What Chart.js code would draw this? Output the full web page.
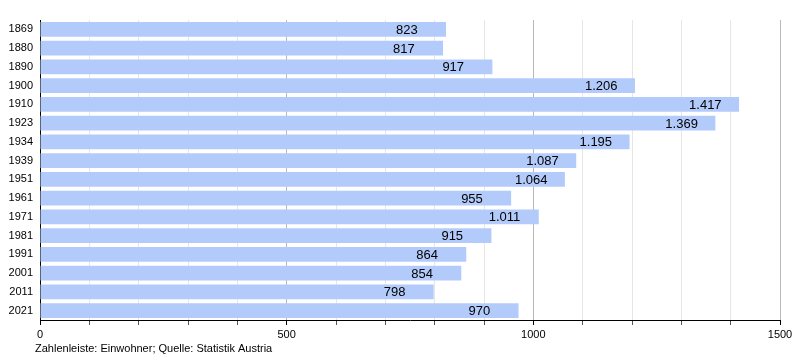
<!DOCTYPE html>
<html>
<head>
<meta charset="utf-8">
<script src="https://cdn.jsdelivr.net/npm/chart.js@4/dist/chart.umd.min.js"></script>
<style>
  html, body { margin: 0; padding: 0; background: #fff; }
  #wrap { width: 800px; height: 360px; position: relative; }
</style>
</head>
<body>
<div id="wrap"><canvas id="popChart"></canvas></div>
<script>
// Einwohner je Zählungsjahr
var years = ['1869', '1880', '1890', '1900', '1910', '1923', '1934', '1939', '1951', '1961', '1971', '1981', '1991', '2001', '2011', '2021'];
var residents = [823, 817, 917, 1206, 1417, 1369, 1195, 1087, 1064, 955, 1011, 915, 864, 854, 798, 970];
var xTicks = [0, 500, 1000, 1500];
var footerText = 'Zahlenleiste: Einwohner; Quelle: Statistik Austria';

var FONT = '"Liberation Sans", Arial, sans-serif';

function fmt(v) {
  return v.toLocaleString('de-DE');
}

// value text sits 50px left of the bar end
var valueLabels = {
  id: 'valueLabels',
  afterDatasetsDraw: function (chart) {
    var ctx = chart.ctx;
    var meta = chart.getDatasetMeta(0);
    ctx.save();
    ctx.font = '13px ' + FONT;
    ctx.fillStyle = '#000';
    ctx.textAlign = 'left';
    ctx.textBaseline = 'middle';
    meta.data.forEach(function (bar, i) {
      ctx.fillText(fmt(residents[i]), bar.x - 50, bar.y + 1);
    });
    ctx.restore();
  }
};

var footer = {
  id: 'footer',
  afterDraw: function (chart) {
    var ctx = chart.ctx;
    ctx.save();
    ctx.font = '11px ' + FONT;
    ctx.fillStyle = '#000';
    ctx.textBaseline = 'middle';
    ctx.fillText(footerText, 35, 349);
    ctx.restore();
  }
};

var ctx = document.getElementById('popChart').getContext('2d');
var popChart = new Chart(ctx, {
  type: 'bar',
  data: {
    labels: years,
    datasets: [{
      data: residents,
      backgroundColor: '#b3cbfa',
      borderWidth: 0,
      barPercentage: 0.79,
      categoryPercentage: 1.0
    }]
  },
  options: {
    indexAxis: 'y',
    responsive: true,
    maintainAspectRatio: false,
    animation: false,
    layout: { padding: { top: 20, right: 20, left: 0, bottom: 0 } },
    plugins: {
      legend: { display: false },
      tooltip: { enabled: false }
    },
    scales: {
      x: {
        min: 0,
        max: 1500,
        afterFit: function (scale) { scale.height = 40; },
        ticks: {
          stepSize: 100,
          autoSkip: false,
          maxRotation: 0,
          padding: 3,
          color: '#000',
          font: { size: 11, family: FONT },
          callback: function (v) { return xTicks.indexOf(v) >= 0 ? String(v) : ''; }
        },
        grid: {
          drawOnChartArea: true,
          tickLength: 5,
          color: function (c) {
            if (c.tick && c.tick.value === 0) return 'rgba(0,0,0,0)';
            return c.tick && c.tick.value % 500 === 0 ? '#b8b8b8' : '#e6e6e6';
          },
          tickColor: function (c) {
            return c.tick && c.tick.value % 500 === 0 ? '#000' : '#555';
          }
        },
        border: { display: true, color: '#000', width: 1 }
      },
      y: {
        afterFit: function (scale) { scale.width = 40; },
        ticks: {
          padding: 7,
          color: '#000',
          font: { size: 11, family: FONT }
        },
        grid: { display: false, drawTicks: false },
        border: { display: true, color: '#000', width: 1 }
      }
    }
  },
  plugins: [valueLabels, footer]
});
</script>
</body>
</html>
